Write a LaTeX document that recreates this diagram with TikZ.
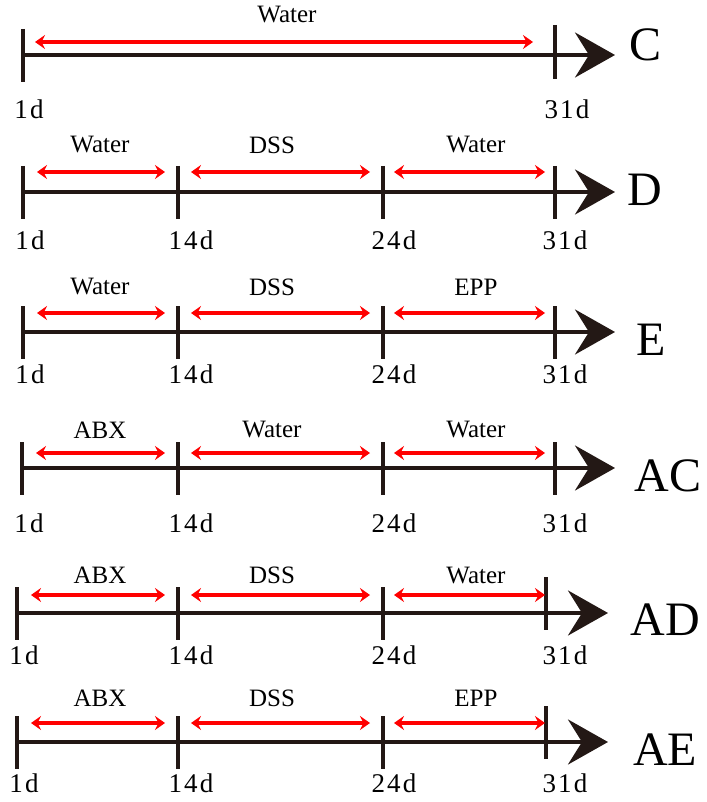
\documentclass[tikz,border=0pt]{standalone}
\usepackage{fontspec}
\setmainfont{Liberation Serif}
\usepackage{xcolor}
\usepackage{tikz}
\usetikzlibrary{arrows.meta}
\definecolor{axisdark}{HTML}{231815}
\definecolor{phasered}{HTML}{FF0000}

\begin{document}
\begin{tikzpicture}[x=1pt,y=-1pt,
  axis/.style={draw=axisdark,line width=4pt,-{Stealth[length=40pt,width=45pt,inset=14pt]}},
  daytick/.style={draw=axisdark,line width=4pt},
  phase/.style={draw=phasered,line width=3.5pt,
    {Stealth[length=10pt,width=14pt,inset=3.5pt]}-{Stealth[length=10pt,width=14pt,inset=3.5pt]}},
  phaselabel/.style={font=\fontsize{25}{30}\selectfont,inner sep=0pt},
  daylabel/.style={font=\fontsize{27}{32}\selectfont\addfontfeature{LetterSpace=8},inner sep=0pt},
  grouplabel/.style={font=\fontsize{48}{56}\selectfont,inner sep=0pt}]
\useasboundingbox (0,0) rectangle (706,802);

% group C: water the whole time
\coordinate (c-1) at (23,55);
\coordinate (c-31) at (555,55);
\coordinate (c-end) at (615,55);
\coordinate (c-p0) at (35,42);
\coordinate (c-p1) at (533,42);
\draw[axis] (c-1) -- (c-end);
\draw[daytick] (c-1) ++(0,-26) -- ++(0,53);
\draw[daytick] (c-31) ++(0,-30) -- ++(0,54);
\draw[phase] (c-p0) -- (c-p1);
\node[phaselabel] (c-la) at (287,15) {Water};
\node[daylabel] (c-d1) at (29,109) {1d};
\node[daylabel] (c-d31) at (567,109) {31d};
\node[grouplabel] (c-grp) at (645,45) {C};

% the five three-phase groups
\foreach \nm/\grp/\y/\r/\t/\d/\xa/\xd/\ls/\tip/\eg/\la/\lb/\lc/\gx/\gy in {
    d/D/192/172/145/240/23/555/0/615/10/Water/DSS/Water/645/190,
    e/E/332/313/287/374/23/555/0/615/10/Water/DSS/EPP/651/340,
    ac/AC/468/453/430/523/22/555/0/615/10/ABX/Water/Water/668/476,
    ad/AD/613/595/575/655/17/546/10/608/1/ABX/DSS/Water/665/620,
    ae/AE/742/723/698/783/17/546/10/608/1/ABX/DSS/EPP/665/750}{
  \coordinate (\nm-1) at (\xa,\y);
  \coordinate (\nm-14) at (178,\y);
  \coordinate (\nm-24) at (383,\y);
  \coordinate (\nm-31) at (\xd,\y);
  \coordinate (\nm-end) at (\tip,\y);
  \coordinate (\nm-a0) at (\xa+14,\r);
  \coordinate (\nm-a1) at (165,\r);
  \coordinate (\nm-b0) at (191,\r);
  \coordinate (\nm-b1) at (370,\r);
  \coordinate (\nm-c0) at (394,\r);
  \coordinate (\nm-c1) at (\xd-\eg,\r);
  \draw[axis] (\nm-1) -- (\nm-end);
  \foreach \k in {1,14,24}
    \draw[daytick] (\nm-\k) ++(0,-26) -- ++(0,53);
  \draw[daytick] (\nm-31) ++(0,-26-\ls) -- ++(0,53);
  \draw[phase] (\nm-a0) -- (\nm-a1);
  \draw[phase] (\nm-b0) -- (\nm-b1);
  \draw[phase] (\nm-c0) -- (\nm-c1);
  \node[phaselabel] (\nm-la) at (100,\t) {\la};
  \node[phaselabel] (\nm-lb) at (272,\t) {\lb};
  \node[phaselabel] (\nm-lc) at (476,\t) {\lc};
  \node[daylabel] (\nm-d1) at (\xa+7,\d) {1d};
  \node[daylabel] (\nm-d14) at (191,\d) {14d};
  \node[daylabel] (\nm-d24) at (394,\d) {24d};
  \node[daylabel] (\nm-d31) at (565,\d) {31d};
  \node[grouplabel] (\nm-grp) at (\gx,\gy) {\grp};
}
\end{tikzpicture}
\end{document}
